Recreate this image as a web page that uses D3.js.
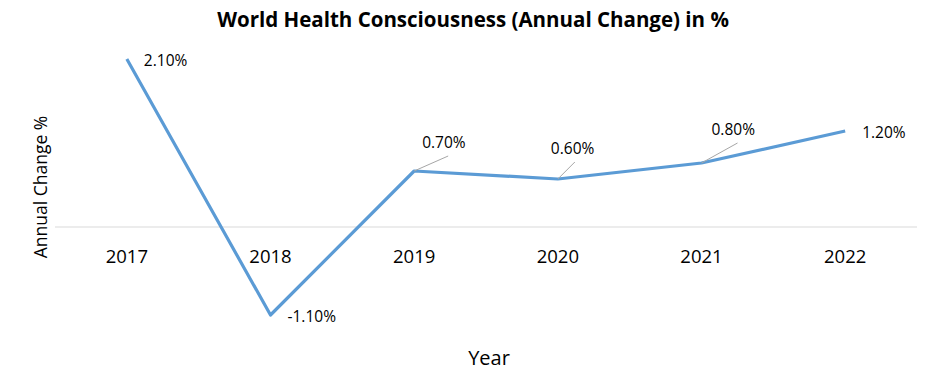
<!DOCTYPE html>
<html>
<head>
<meta charset="utf-8">
<script src="https://cdn.jsdelivr.net/npm/d3@7"></script>
<style>
  body { margin: 0; background: #fff; }
  text { font-family: "Open Sans", "Noto Sans", sans-serif; }
</style>
</head>
<body>
<svg id="chart" width="941" height="377"></svg>
<script>
const years = ["2017", "2018", "2019", "2020", "2021", "2022"];
const changes = [2.1, -1.1, 0.7, 0.6, 0.8, 1.2];
const labels = ["2.10%", "-1.10%", "0.70%", "0.60%", "0.80%", "1.20%"];
// label offsets from the point, and whether a leader line is drawn
const labelDx = [17, 17, 8, -7, 10, 17];
const labelDy = [2, 2, -28, -30, -33, 2];
const leader = [false, false, true, true, true, false];

const svg = d3.select("#chart");
const width = +svg.attr("width");
const height = +svg.attr("height");

const x = d3.scaleBand()
    .domain(years)
    .range([55, 917]);

const y = d3.scaleLinear()
    .domain([-1.5, 2.5])
    .range([347, 27]);

const data = years.map((d, i) => ({year: d, value: changes[i], label: labels[i], i: i}));

// zero line
svg.append("line")
    .attr("x1", x.range()[0])
    .attr("x2", x.range()[1])
    .attr("y1", y(0))
    .attr("y2", y(0))
    .attr("stroke", "#d9d9d9")
    .attr("stroke-width", 1);

// category labels just under the zero line
svg.selectAll(".tick-label")
    .data(years)
    .join("text")
    .attr("class", "tick-label")
    .attr("x", d => x(d) + x.bandwidth() / 2)
    .attr("y", y(0) + 36)
    .attr("text-anchor", "middle")
    .style("font-size", "18.5px")
    .style("fill", "#000")
    .text(d => d);

const line = d3.line()
    .x(d => x(d.year) + x.bandwidth() / 2)
    .y(d => y(d.value));

svg.append("path")
    .datum(data)
    .attr("d", line)
    .attr("fill", "none")
    .attr("stroke", "#5b9bd5")
    .attr("stroke-width", 3.2)
    .attr("stroke-linejoin", "round");

// leader lines
svg.selectAll(".leader")
    .data(data.filter(d => leader[d.i]))
    .join("line")
    .attr("class", "leader")
    .attr("x1", d => x(d.year) + x.bandwidth() / 2)
    .attr("y1", d => y(d.value))
    .attr("x2", d => x(d.year) + x.bandwidth() / 2 + labelDx[d.i] + (d.i === 3 ? 24 : 26))
    .attr("y2", d => y(d.value) + labelDy[d.i] + 13)
    .attr("stroke", "#a6a6a6")
    .attr("stroke-width", 1);

svg.selectAll(".data-label")
    .data(data)
    .join("text")
    .attr("class", "data-label")
    .attr("x", d => x(d.year) + x.bandwidth() / 2 + labelDx[d.i])
    .attr("y", d => y(d.value) + labelDy[d.i])
    .attr("dy", "0.35em")
    .style("font-size", "15.5px")
    .style("fill", "#000")
    .text(d => d.label);

svg.append("text")
    .attr("x", 473)
    .attr("y", 27)
    .attr("text-anchor", "middle")
    .style("font-size", "20.5px")
    .style("font-weight", "bold")
    .text("World Health Consciousness (Annual Change) in %");

svg.append("text")
    .attr("transform", `translate(47, ${y(0) - 40}) rotate(-90)`)
    .attr("text-anchor", "middle")
    .style("font-size", "17.5px")
    .text("Annual Change %");

svg.append("text")
    .attr("x", 489)
    .attr("y", 365)
    .attr("text-anchor", "middle")
    .style("font-size", "20px")
    .text("Year");
</script>
</body>
</html>
